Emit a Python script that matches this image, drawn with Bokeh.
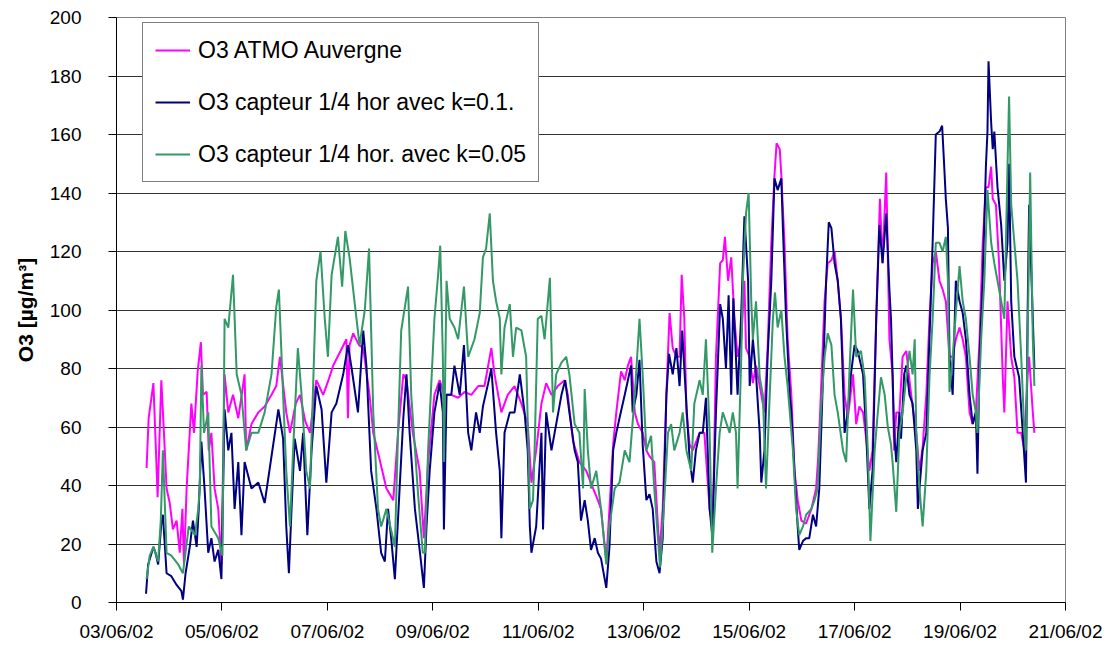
from datetime import datetime, timedelta
from bokeh.plotting import figure
from bokeh.models import FixedTicker, DatetimeTickFormatter, Range1d, Legend, LegendItem
from bokeh.embed import file_html
from bokeh.resources import INLINE

# ---------------- data (days since 03/06/2002 00:00, O3 in ug/m3) ----------------
atmo_days = [0.57, 0.61, 0.70, 0.74, 0.78, 0.85, 0.90, 0.95, 1.01, 1.07, 1.14, 1.20, 1.25, 1.28, 1.33, 1.42,
             1.47, 1.54, 1.60, 1.64, 1.71, 1.75, 1.80, 1.86, 1.93, 1.99, 2.05, 2.12, 2.21, 2.31, 2.43, 2.46,
             2.56, 2.69, 2.81, 2.94, 3.03, 3.10, 3.22, 3.29, 3.40, 3.48, 3.58, 3.67, 3.79, 3.92, 4.02, 4.11,
             4.25, 4.36, 4.39, 4.42, 4.49, 4.60, 4.68, 4.80, 4.87, 4.99, 5.12, 5.25, 5.34, 5.44, 5.50, 5.62,
             5.75, 5.83, 5.91, 6.03, 6.13, 6.22, 6.35, 6.48, 6.60, 6.73, 6.86, 6.98, 7.11, 7.17, 7.30, 7.42,
             7.55, 7.68, 7.80, 7.87, 7.96, 8.06, 8.15, 8.25, 8.37, 8.50, 8.56, 8.66, 8.78, 8.91, 9.04, 9.13,
             9.19, 9.29, 9.35, 9.42, 9.48, 9.57, 9.64, 9.70, 9.76, 9.83, 9.89, 9.98, 10.05, 10.11, 10.20, 10.27,
             10.30, 10.36, 10.43, 10.49, 10.55, 10.62, 10.68, 10.72, 10.77, 10.81, 10.87, 10.93, 11.06, 11.15,
             11.25, 11.31, 11.37, 11.45, 11.50, 11.54, 11.60, 11.66, 11.72, 11.78, 11.85, 11.91, 11.94, 12.01,
             12.07, 12.13, 12.23, 12.29, 12.35, 12.42, 12.48, 12.52, 12.58, 12.61, 12.67, 12.73, 12.80, 12.86,
             12.92, 12.99, 13.08, 13.18, 13.27, 13.31, 13.36, 13.43, 13.49, 13.56, 13.62, 13.68, 13.74, 13.81,
             13.87, 13.97, 14.03, 14.09, 14.16, 14.22, 14.28, 14.34, 14.41, 14.48, 14.53, 14.60, 14.66, 14.72,
             14.75, 14.79, 14.85, 14.91, 14.98, 15.04, 15.10, 15.17, 15.23, 15.29, 15.36, 15.42, 15.48, 15.54,
             15.61, 15.67, 15.73, 15.80, 15.86, 15.92, 15.99, 16.05, 16.11, 16.18, 16.24, 16.30, 16.37, 16.43,
             16.49, 16.54, 16.59, 16.62, 16.68, 16.74, 16.81, 16.84, 16.90, 16.97, 17.03, 17.09, 17.16, 17.22,
             17.28, 17.31, 17.38, 17.41]
atmo_o3 = [46, 63, 75, 56, 36, 76, 58, 39, 34, 25, 28, 17, 32, 13, 39, 68,
           58, 79, 89, 71, 72, 52, 58, 39, 32, 13, 78, 65, 71, 63, 78, 52,
           61, 65, 67, 71, 74, 84, 65, 58, 68, 71, 62, 58, 76, 71, 76, 81,
           86, 90, 63, 88, 92, 88, 87, 71, 58, 49, 39, 35, 58, 78, 76, 58,
           45, 22, 48, 71, 76, 71, 71, 70, 72, 71, 74, 74, 87, 78, 65, 71,
           74, 68, 61, 41, 52, 68, 75, 71, 74, 76, 71, 55, 48, 45, 39, 35,
           32, 14, 32, 54, 65, 79, 76, 81, 84, 65, 61, 58, 52, 50, 48, 26,
           17, 32, 71, 99, 87, 84, 84, 112, 97, 65, 54, 52, 58, 58,
           32, 26, 84, 116, 117, 125, 110, 118, 97, 84, 90, 110, 87, 84,
           75, 81, 71, 65, 87, 123, 146, 157, 155, 146, 123, 90, 71, 45,
           35, 28, 27, 32, 39, 50, 71, 103, 116, 117, 120, 110, 97, 71,
           63, 78, 61, 67, 65, 56, 45, 52, 97, 138, 116, 147, 90, 78,
           52, 65, 65, 84, 86, 76, 67, 58, 45, 53, 71, 97, 116, 120,
           110, 107, 103, 84, 84, 90, 94, 90, 84, 65, 61, 65, 90, 123,
           142, 142, 149, 138, 136, 116, 77, 65, 103, 84, 77, 58, 58, 52,
           77, 84, 65, 58]

k01_days = [0.56, 0.60, 0.70, 0.74, 0.79, 0.85, 0.88, 0.95, 1.04, 1.14, 1.23, 1.26, 1.31, 1.39, 1.45, 1.52,
            1.56, 1.61, 1.67, 1.74, 1.80, 1.86, 1.93, 1.99, 2.05, 2.12, 2.18, 2.24, 2.31, 2.37, 2.43, 2.56,
            2.69, 2.81, 2.94, 3.03, 3.07, 3.16, 3.22, 3.27, 3.32, 3.38, 3.48, 3.54, 3.62, 3.70, 3.79, 3.89,
            3.98, 4.08, 4.17, 4.30, 4.39, 4.46, 4.58, 4.68, 4.74, 4.83, 4.93, 5.02, 5.09, 5.15, 5.21, 5.28,
            5.37, 5.44, 5.50, 5.56, 5.66, 5.75, 5.83, 5.88, 5.94, 6.03, 6.13, 6.19, 6.21, 6.26, 6.35, 6.41,
            6.51, 6.59, 6.67, 6.73, 6.82, 6.89, 6.95, 7.05, 7.11, 7.20, 7.27, 7.30, 7.36, 7.46, 7.55, 7.65,
            7.74, 7.80, 7.84, 7.87, 7.96, 8.06, 8.09, 8.15, 8.25, 8.31, 8.44, 8.51, 8.59, 8.69, 8.75, 8.81,
            8.88, 8.94, 9.00, 9.07, 9.13, 9.19, 9.26, 9.29, 9.35, 9.42, 9.48, 9.54, 9.64, 9.70, 9.76, 9.79,
            9.86, 9.92, 9.98, 10.05, 10.11, 10.17, 10.24, 10.30, 10.36, 10.43, 10.48, 10.55, 10.62, 10.68,
            10.73, 10.77, 10.87, 10.93, 10.99, 11.06, 11.12, 11.18, 11.25, 11.30, 11.37, 11.45, 11.50, 11.56,
            11.61, 11.66, 11.70, 11.78, 11.85, 11.91, 11.98, 12.01, 12.07, 12.13, 12.20, 12.23, 12.29, 12.35,
            12.42, 12.48, 12.54, 12.61, 12.64, 12.70, 12.77, 12.80, 12.86, 12.92, 12.95, 13.02, 13.08, 13.14,
            13.21, 13.27, 13.33, 13.40, 13.46, 13.51, 13.56, 13.62, 13.68, 13.74, 13.81, 13.87, 13.93, 14.00,
            14.06, 14.16, 14.22, 14.28, 14.34, 14.41, 14.47, 14.53, 14.60, 14.66, 14.69, 14.72, 14.75, 14.79,
            14.85, 14.88, 14.94, 14.98, 15.04, 15.10, 15.17, 15.20, 15.23, 15.29, 15.36, 15.42, 15.48, 15.54,
            15.61, 15.66, 15.70, 15.73, 15.77, 15.80, 15.86, 15.92, 15.99, 16.05, 16.11, 16.18, 16.24, 16.30,
            16.33, 16.37, 16.43, 16.49, 16.52, 16.54, 16.59, 16.62, 16.65, 16.71, 16.78, 16.84, 16.90, 16.93,
            16.97, 17.03, 17.12, 17.19, 17.25, 17.28, 17.31, 17.38, 17.41]
k01_o3 = [3, 13, 19, 17, 13, 27, 30, 10, 9, 6, 4, 1, 10, 19, 28, 19,
          32, 55, 39, 17, 22, 14, 18, 8, 66, 52, 58, 32, 48, 23, 48, 39,
          41, 34, 50, 61, 66, 56, 26, 10, 32, 56, 45, 58, 23, 52, 74, 66,
          41, 65, 68, 78, 88, 80, 65, 93, 81, 45, 32, 17, 14, 32, 22, 8,
          39, 63, 78, 58, 32, 18, 5, 26, 45, 65, 75, 65, 25, 71, 71, 81,
          71, 88, 58, 52, 65, 58, 67, 75, 80, 58, 45, 22, 58, 65, 65, 78,
          65, 52, 26, 17, 26, 58, 25, 65, 52, 58, 71, 76, 65, 52, 48, 28,
          35, 28, 18, 22, 17, 15, 8, 5, 19, 52, 58, 63, 71, 76, 81, 65,
          71, 83, 54, 35, 37, 32, 14, 10, 22, 71, 85, 78, 87, 74,
          93, 80, 49, 41, 52, 58, 58, 70, 32, 23, 65, 102, 97, 80,
          105, 71, 104, 71, 99, 132, 110, 74, 90, 78, 58, 41, 52, 84,
          110, 145, 141, 145, 128, 97, 71, 65, 45, 26, 18, 21, 22, 22,
          30, 26, 39, 77, 110, 130, 128, 116, 110, 97, 58, 65, 78, 88,
          86, 78, 58, 32, 45, 97, 129, 116, 133, 107, 97, 78, 58, 48,
          65, 56, 78, 81, 71, 68, 52, 32, 39, 52, 58, 90, 123, 160,
          161, 163, 149, 138, 128, 84, 71, 110, 103, 99, 90, 71, 61, 65,
          44, 84, 110, 149, 161, 185, 164, 155, 161, 142, 129, 110, 123, 150,
          103, 84, 77, 58, 41, 97, 136, 97, 80]

k005_days = [0.57, 0.63, 0.70, 0.79, 0.84, 0.88, 0.92, 0.95, 1.04, 1.17, 1.26, 1.37, 1.49, 1.55, 1.58, 1.61,
             1.66, 1.74, 1.80, 1.93, 2.01, 2.05, 2.12, 2.21, 2.28, 2.37, 2.46, 2.56, 2.69, 2.81, 2.94, 3.03,
             3.08, 3.16, 3.22, 3.29, 3.35, 3.44, 3.51, 3.60, 3.67, 3.79, 3.87, 3.95, 4.01, 4.08, 4.20, 4.28,
             4.34, 4.42, 4.52, 4.61, 4.71, 4.79, 4.87, 4.96, 5.02, 5.12, 5.28, 5.34, 5.40, 5.53, 5.59, 5.72,
             5.81, 5.85, 5.91, 6.03, 6.10, 6.14, 6.19, 6.21, 6.26, 6.32, 6.41, 6.48, 6.59, 6.67, 6.79, 6.89,
             6.95, 7.01, 7.08, 7.14, 7.20, 7.27, 7.30, 7.36, 7.46, 7.52, 7.58, 7.68, 7.77, 7.84, 7.90, 7.93,
             7.99, 8.06, 8.12, 8.22, 8.28, 8.34, 8.44, 8.53, 8.59, 8.69, 8.78, 8.85, 8.88, 8.94, 9.00, 9.10,
             9.19, 9.29, 9.35, 9.45, 9.54, 9.64, 9.73, 9.83, 9.92, 9.98, 10.05, 10.14, 10.20, 10.27, 10.31,
             10.38, 10.46, 10.52, 10.58, 10.68, 10.74, 10.81, 10.90, 10.96, 11.06, 11.12, 11.18, 11.25, 11.30,
             11.37, 11.44, 11.50, 11.63, 11.69, 11.75, 11.78, 11.85, 11.88, 11.94, 11.99, 12.04, 12.07, 12.13,
             12.20, 12.26, 12.32, 12.39, 12.45, 12.49, 12.54, 12.61, 12.67, 12.73, 12.83, 12.89, 12.95, 13.02,
             13.08, 13.18, 13.24, 13.30, 13.36, 13.43, 13.49, 13.56, 13.62, 13.68, 13.78, 13.84, 13.90, 13.97,
             14.03, 14.12, 14.19, 14.25, 14.30, 14.38, 14.44, 14.50, 14.57, 14.63, 14.69, 14.72, 14.79, 14.85,
             14.91, 14.98, 15.04, 15.10, 15.14, 15.17, 15.23, 15.29, 15.36, 15.42, 15.48, 15.54, 15.61, 15.67,
             15.73, 15.77, 15.80, 15.86, 15.92, 15.99, 16.05, 16.11, 16.18, 16.24, 16.30, 16.33, 16.40, 16.46,
             16.52, 16.59, 16.65, 16.71, 16.78, 16.84, 16.90, 16.93, 16.97, 17.03, 17.09, 17.16, 17.22, 17.25,
             17.31, 17.33, 17.38, 17.41]
k005_o3 = [8, 16, 19, 14, 28, 52, 32, 17, 16, 13, 10, 26, 23, 32, 39, 81,
           58, 65, 26, 22, 16, 97, 94, 112, 78, 71, 52, 58, 58, 65, 78, 101,
           107, 71, 45, 26, 52, 87, 71, 45, 39, 110, 120, 97, 84, 112, 125, 108,
           127, 118, 102, 88, 100, 121, 65, 32, 26, 32, 19, 58, 93, 108, 71, 37,
           17, 17, 52, 97, 112, 122, 84, 48, 110, 97, 94, 90, 108, 84, 90, 99,
           118, 121, 133, 110, 103, 97, 78, 94, 102, 84, 94, 93, 84, 32, 35, 52,
           97, 98, 90, 111, 65, 78, 82, 84, 78, 61, 58, 39, 73, 52, 39, 45,
           32, 13, 26, 39, 41, 52, 48, 71, 97, 78, 52, 57, 39, 22, 12,
           32, 58, 61, 52, 58, 65, 52, 45, 68, 76, 71, 90, 58, 17,
           39, 58, 65, 58, 65, 58, 39, 84, 110, 133, 140, 103, 90, 103,
           77, 71, 39, 71, 97, 106, 94, 100, 84, 74, 52, 32, 23, 26,
           30, 32, 35, 39, 65, 84, 92, 88, 71, 65, 52, 48, 78, 107,
           84, 86, 77, 52, 21, 52, 65, 77, 71, 60, 54, 48, 31, 58,
           65, 77, 86, 78, 90, 58, 39, 26, 45, 77, 97, 123, 123, 120,
           125, 110, 72, 84, 99, 115, 103, 97, 84, 71, 65, 58, 90, 110,
           141, 123, 116, 110, 103, 97, 149, 173, 136, 123, 110, 84, 58, 52,
           123, 147, 90, 74]

series_names = ["O3 ATMO Auvergne", "O3 capteur 1/4 hor avec k=0.1.", "O3 capteur 1/4 hor. avec k=0.05"]
series_colors = ["#FF00FF", "#000080", "#339966"]
tick_labels = ["03/06/02", "05/06/02", "07/06/02", "09/06/02", "11/06/02",
               "13/06/02", "15/06/02", "17/06/02", "19/06/02", "21/06/02"]
y_ticks = [0, 20, 40, 60, 80, 100, 120, 140, 160, 180, 200]

start = datetime(2002, 6, 3)
epoch = datetime(1970, 1, 1)


def to_dt(days):
    return [start + timedelta(days=d) for d in days]


def ms(dt):
    return (dt - epoch).total_seconds() * 1000.0


tick_dates = [datetime.strptime(t, "%d/%m/%y") for t in tick_labels]

FONT = "Liberation Sans"

p = figure(width=1102, height=648, x_axis_type="datetime",
           output_backend="svg", toolbar_location=None,
           x_range=Range1d(tick_dates[0], tick_dates[-1]),
           y_range=Range1d(y_ticks[0], y_ticks[-1]),
           min_border_left=116, min_border_right=37,
           min_border_top=17, min_border_bottom=46)

p.background_fill_color = "white"
p.border_fill_color = "white"
p.outline_line_color = "#808080"
p.outline_line_width = 1

# lines
renderers = []
for days, vals, col in [(atmo_days, atmo_o3, series_colors[0]),
                        (k01_days, k01_o3, series_colors[1]),
                        (k005_days, k005_o3, series_colors[2])]:
    r = p.line(to_dt(days), vals, line_color=col, line_width=2)
    renderers.append(r)

# axes
p.xaxis.ticker = FixedTicker(ticks=[ms(d) for d in tick_dates])
p.xaxis.formatter = DatetimeTickFormatter(days="%d/%m/%y", months="%d/%m/%y",
                                          hours="%d/%m/%y", years="%d/%m/%y")
p.yaxis.ticker = FixedTicker(ticks=y_ticks)

for ax in (p.xaxis[0], p.yaxis[0]):
    ax.axis_line_color = "black"
    ax.axis_line_width = 1
    ax.major_tick_line_color = "black"
    ax.major_tick_in = 0
    ax.major_tick_out = 8
    ax.minor_tick_line_color = None
    ax.major_label_text_font = FONT
    ax.major_label_text_font_size = "19px"
    ax.major_label_text_color = "black"

p.xaxis.major_label_standoff = 10
p.yaxis.major_label_standoff = 27

p.yaxis.axis_label = "O3 [µg/m³]"
p.yaxis.axis_label_text_font = FONT
p.yaxis.axis_label_text_font_size = "21px"
p.yaxis.axis_label_text_font_style = "bold"
p.yaxis.axis_label_text_color = "black"
p.yaxis.axis_label_standoff = 10

p.xgrid.grid_line_color = None
p.ygrid.grid_line_color = "#333333"
p.ygrid.grid_line_width = 1

# legend
items = [LegendItem(label=n, renderers=[r]) for n, r in zip(series_names, renderers)]
legend = Legend(items=items, location=(26, 420), orientation="vertical",
                label_text_font=FONT, label_text_font_size="23px", label_text_color="black",
                glyph_width=35, glyph_height=30, label_height=30, label_standoff=8,
                spacing=22, padding=12, margin=0,
                border_line_color="black", border_line_width=1,
                background_fill_color="white", background_fill_alpha=1.0)
p.add_layout(legend)

open("out.html", "w").write(file_html(p, INLINE))
